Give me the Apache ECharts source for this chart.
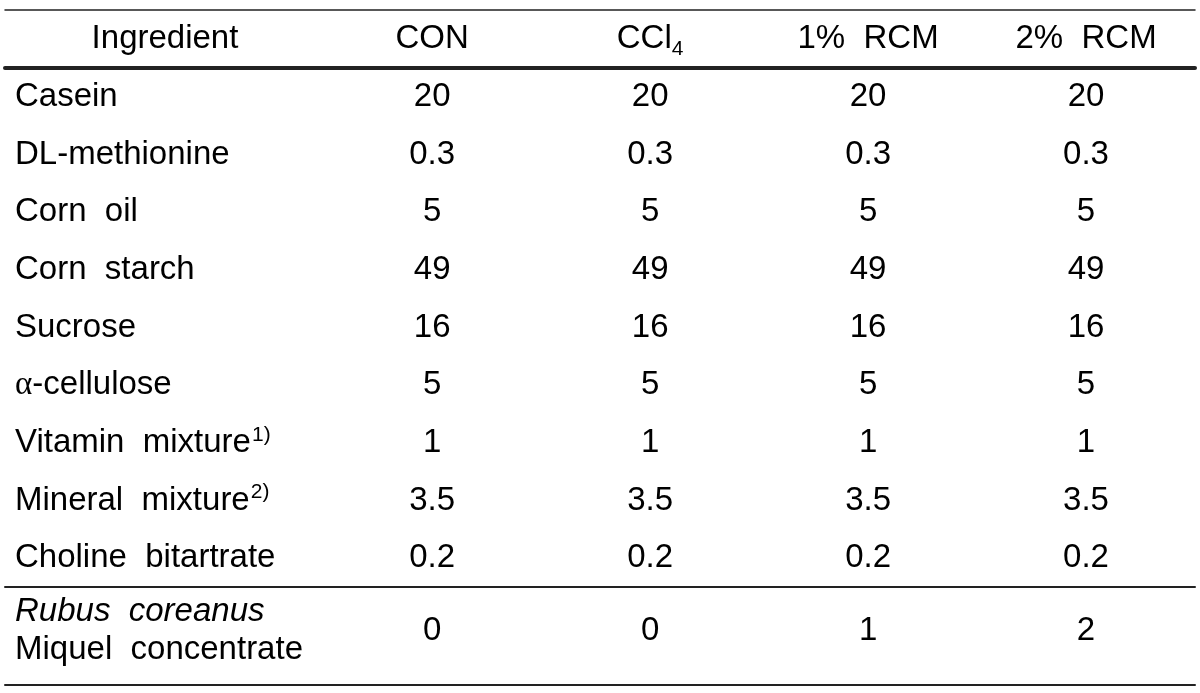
<!DOCTYPE html>
<html>
<head>
<meta charset="utf-8">
<title>Diet composition</title>
<script src="https://cdn.jsdelivr.net/npm/echarts@6/dist/echarts.min.js"></script>
<style>
  html, body { margin: 0; padding: 0; background: #fff; }
  #table { width: 1200px; height: 693px; }
</style>
</head>
<body>
<div id="table"></div>
<script>
// column headers (rich text keys for the subscript)
const columns = ['CON', '{n|CCl}{sub|4}', '1%  RCM', '2%  RCM'];
// row labels
const ingredients = [
  'Casein',
  'DL-methionine',
  'Corn  oil',
  'Corn  starch',
  'Sucrose',
  '{greek|α}-cellulose',
  'Vitamin  mixture{sup|1)}',
  'Mineral  mixture{sup|2)}',
  'Choline  bitartrate',
  '{it|Rubus  coreanus}\nMiquel  concentrate'
];
// values per column, same order as ingredients
const con  = [20, 0.3, 5, 49, 16, 5, 1, 3.5, 0.2, 0];
const ccl4 = [20, 0.3, 5, 49, 16, 5, 1, 3.5, 0.2, 0];
const rcm1 = [20, 0.3, 5, 49, 16, 5, 1, 3.5, 0.2, 1];
const rcm2 = [20, 0.3, 5, 49, 16, 5, 1, 3.5, 0.2, 2];

const valueCols = [con, ccl4, rcm1, rcm2];
const bodyRows = ingredients.slice(0, 9);
const lastRows = ingredients.slice(9);

const FONT = "'Liberation Sans', Arial, sans-serif";
const INK = '#000';
const LINE = '#222';
const SIZE = 33;

const rich = {
  n: { fontSize: SIZE, fontFamily: FONT, color: INK },
  sub: { fontSize: 21, fontFamily: FONT, color: INK, verticalAlign: 'bottom', padding: [0, 0, -4, 0] },
  sup: { fontSize: 21, fontFamily: FONT, color: INK, padding: [0, 0, 16, 1] },
  greek: { fontSize: SIZE, fontFamily: "'Liberation Serif', 'DejaVu Serif', serif", color: INK },
  it: { fontSize: SIZE, fontFamily: FONT, fontStyle: 'italic', color: INK }
};

function xAxisFor(gridIndex, position, width) {
  return {
    type: 'value',
    gridIndex: gridIndex,
    position: position,
    min: -0.96,
    max: 4.5,
    axisLine: { show: true, onZero: false, lineStyle: { color: LINE, width: width } },
    axisTick: { show: false },
    axisLabel: { show: false },
    splitLine: { show: false }
  };
}

function yAxisFor(gridIndex, data, label) {
  return {
    type: 'category',
    gridIndex: gridIndex,
    inverse: true,
    data: data,
    axisLine: { show: false, onZero: false },
    axisTick: { show: false },
    splitLine: { show: false },
    axisLabel: Object.assign({
      inside: true,
      align: 'left',
      margin: 10,
      fontSize: SIZE,
      fontFamily: FONT,
      color: INK,
      rich: rich
    }, label || {})
  };
}

function cells(rows, startIndex) {
  const out = [];
  valueCols.forEach(function (col, c) {
    rows.forEach(function (name, r) {
      out.push([c + 1, name, col[startIndex + r]]);
    });
  });
  return out;
}

function textSeries(xIdx, yIdx, data, formatter, offset) {
  return {
    type: 'scatter',
    xAxisIndex: xIdx,
    yAxisIndex: yIdx,
    silent: true,
    symbolSize: 1,
    itemStyle: { color: 'rgba(0,0,0,0)', opacity: 1 },
    data: data,
    label: {
      show: true,
      position: 'inside',
      offset: offset || [0, 0],
      fontSize: SIZE,
      fontFamily: FONT,
      color: INK,
      opacity: 1,
      rich: rich,
      formatter: formatter
    }
  };
}

const chart = echarts.init(document.getElementById('table'));

chart.setOption({
  backgroundColor: '#fff',
  animation: false,
  grid: [
    { left: 5, right: 5, top: 10, height: 58 },
    { left: 5, right: 5, top: 68, height: 519 },
    { left: 5, right: 5, top: 587, height: 98 }
  ],
  xAxis: [
    xAxisFor(0, 'top', 1.5),
    xAxisFor(1, 'top', 4),
    xAxisFor(2, 'top', 2),
    xAxisFor(2, 'bottom', 2)
  ],
  yAxis: [
    yAxisFor(0, ['Ingredient'], { align: 'center', margin: 160 }),
    yAxisFor(1, bodyRows),
    yAxisFor(2, lastRows, { lineHeight: 38, padding: [0, 0, 11, 0] })
  ],
  series: [
    textSeries(0, 0, columns.map(function (name, c) { return [c + 1, 'Ingredient', name]; }),
      function (p) { return p.value[2]; }),
    textSeries(1, 1, cells(bodyRows, 0), function (p) { return String(p.value[2]); }),
    textSeries(2, 2, cells(lastRows, 9), function (p) { return String(p.value[2]); }, [0, -5])
  ]
});
</script>
</body>
</html>
